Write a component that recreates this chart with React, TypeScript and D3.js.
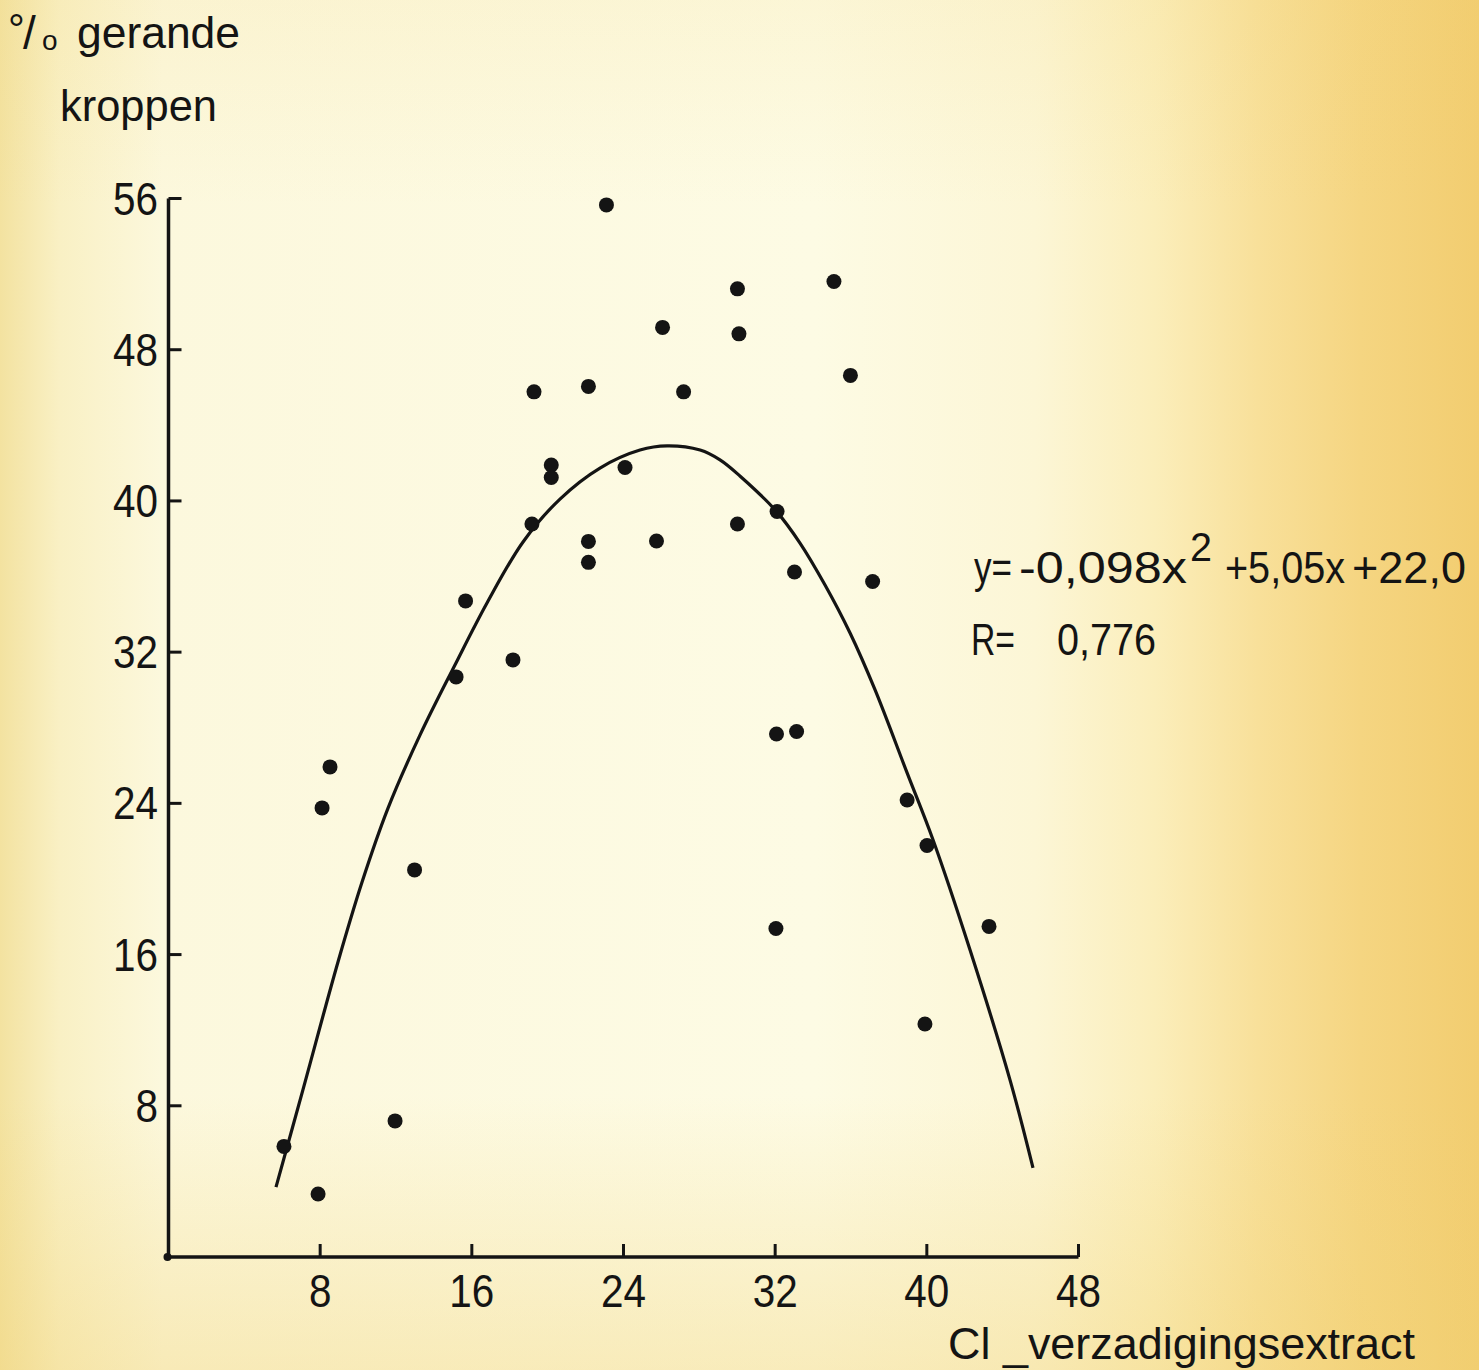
import React from "react";
import * as d3 from "d3";

// ---- data ----
const xTicks = [8, 16, 24, 32, 40, 48];
const yTicks = [8, 16, 24, 32, 40, 48, 56];

const pointX = [6.09, 7.89, 8.1, 8.52, 11.95, 12.98, 15.17, 15.67, 18.17, 19.17, 19.28, 20.19, 20.19, 22.15, 22.15, 22.15, 23.1, 24.08, 25.74, 26.06, 27.17, 30.01, 30.09, 30.01, 32.1, 33.02, 32.07, 33.13, 32.04, 35.1, 35.97, 37.14, 38.96, 40.01, 39.9, 43.28];
const pointY = [5.85, 3.33, 23.76, 25.93, 7.2, 20.48, 30.69, 34.71, 31.59, 38.78, 45.77, 41.9, 41.24, 46.06, 37.86, 36.75, 55.66, 41.77, 37.88, 49.18, 45.77, 51.22, 48.84, 38.78, 39.44, 36.24, 27.67, 27.8, 17.38, 51.61, 46.64, 35.74, 24.18, 21.77, 12.33, 17.49];

// hand-drawn fitted curve
const curveX = [5.67, 7.09, 8.94, 10.21, 11.58, 13.27, 15.11, 16.8, 18.7, 20.65, 22.76, 24.87, 26.3, 28.04, 29.09, 30.14, 32.1, 33.31, 34.63, 35.95, 37.27, 38.96, 40.33, 42.28, 44.39, 45.6];
const curveY = [3.7, 8.84, 15.61, 19.84, 23.75, 27.62, 31.32, 34.6, 37.83, 40.1, 41.74, 42.69, 42.91, 42.69, 42.17, 41.32, 39.41, 37.77, 35.55, 33.01, 30.0, 25.61, 22.06, 16.24, 9.36, 4.71];

const yTitleLines = ["gerande", "kroppen"];
const xTitle = "Cl _verzadigingsextract";
const equationParts = ["y=", "-0,098x", "2", "+5,05x", "+22,0"];
const rLabel = ["R=", "0,776"];

const W = 1479;
const H = 1370;
const INK = "#141414";
const SANS = "'Liberation Sans', Arial, sans-serif";

export default function App() {
  const x = d3.scaleLinear().domain([0, 48]).range([168.5, 1078.5]);
  const y = d3.scaleLinear().domain([0, 56]).range([1257, 198.5]);

  const curvePts: [number, number][] = curveX.map((cx, i) => [cx, curveY[i]]);
  const line = d3
    .line<[number, number]>()
    .x((d) => x(d[0]))
    .y((d) => y(d[1]))
    .curve(d3.curveCatmullRom.alpha(0.5));

  const x0 = x(0);
  const y0 = y(0);
  const digitW = 22.5;

  return (
    <svg
      width={W}
      height={H}
      viewBox={`0 0 ${W} ${H}`}
      style={{ position: "absolute", left: 0, top: 0, display: "block" }}
    >
      <defs>
        <linearGradient id="paperH" x1="0" y1="0" x2="1" y2="0">
          <stop offset="0" stopColor="#f3e2a0" />
          <stop offset="0.04" stopColor="#f9f0c4" />
          <stop offset="0.11" stopColor="#fcf8dd" />
          <stop offset="0.55" stopColor="#fdfbe4" />
          <stop offset="0.7" stopColor="#fcf6d6" />
          <stop offset="0.78" stopColor="#fbeebb" />
          <stop offset="0.85" stopColor="#f8e09a" />
          <stop offset="0.92" stopColor="#f5d581" />
          <stop offset="1" stopColor="#f2cd70" />
        </linearGradient>
        <linearGradient id="paperV" x1="0" y1="0" x2="0" y2="1">
          <stop offset="0" stopColor="#f0d070" stopOpacity="0.12" />
          <stop offset="0.15" stopColor="#f0d070" stopOpacity="0" />
          <stop offset="0.8" stopColor="#f0d070" stopOpacity="0" />
          <stop offset="1" stopColor="#f0d070" stopOpacity="0.35" />
        </linearGradient>
      </defs>
      <rect x={0} y={0} width={W} height={H} fill="url(#paperH)" />
      <rect x={0} y={0} width={W} height={H} fill="url(#paperV)" />

      {/* y-axis title */}
      <g fontFamily={SANS} fill={INK}>
        <text x={8} y={44} fontSize={42}>°</text>
        <text x={23} y={49} fontSize={46}>/</text>
        <text x={42} y={50} fontSize={28}>o</text>
        <text x={77} y={48} fontSize={45} textLength={163} lengthAdjust="spacingAndGlyphs">
          {yTitleLines[0]}
        </text>
        <text x={60} y={121} fontSize={45} textLength={157} lengthAdjust="spacingAndGlyphs">
          {yTitleLines[1]}
        </text>
      </g>

      {/* axes */}
      <line x1={x0} y1={y(56)} x2={x0} y2={y0 + 1} stroke={INK} strokeWidth={3.5} />
      <line x1={x0 - 2} y1={y0} x2={x(48)} y2={y0} stroke={INK} strokeWidth={3.5} />
      <circle cx={x0 - 1} cy={y0} r={4} fill={INK} />

      {yTicks.map((t) => (
        <g key={`yt${t}`}>
          <line x1={x0} y1={y(t)} x2={x0 + 13} y2={y(t)} stroke={INK} strokeWidth={3} />
          <text
            x={158}
            y={y(t) + 16}
            textAnchor="end"
            fontFamily={SANS}
            fontSize={47}
            fill={INK}
            textLength={String(t).length * digitW}
            lengthAdjust="spacingAndGlyphs"
          >
            {t}
          </text>
        </g>
      ))}
      {xTicks.map((t) => (
        <g key={`xt${t}`}>
          <line
            x1={x(t)}
            y1={y0}
            x2={x(t)}
            y2={y0 - 13}
            stroke={INK}
            strokeWidth={3}
          />
          <text
            x={x(t)}
            y={1307}
            textAnchor="middle"
            fontFamily={SANS}
            fontSize={47}
            fill={INK}
            textLength={String(t).length * digitW}
            lengthAdjust="spacingAndGlyphs"
          >
            {t}
          </text>
        </g>
      ))}

      {/* x-axis title */}
      <text
        x={948}
        y={1359}
        fontFamily={SANS}
        fontSize={44}
        fill={INK}
        textLength={467}
        lengthAdjust="spacingAndGlyphs"
      >
        {xTitle}
      </text>

      {/* fitted curve */}
      <path d={line(curvePts) || ""} fill="none" stroke={INK} strokeWidth={3.2} />

      {/* observations */}
      {pointX.map((px, i) => (
        <circle key={`p${i}`} cx={x(px)} cy={y(pointY[i])} r={7.5} fill={INK} />
      ))}

      {/* equation */}
      <g fontFamily={SANS} fontSize={44} fill={INK}>
        <text x={974} y={583} textLength={38} lengthAdjust="spacingAndGlyphs">
          {equationParts[0]}
        </text>
        <text x={1019} y={583} textLength={168} lengthAdjust="spacingAndGlyphs">
          {equationParts[1]}
        </text>
        <text x={1190} y={561} fontSize={40} textLength={22} lengthAdjust="spacingAndGlyphs">
          {equationParts[2]}
        </text>
        <text x={1225} y={583} textLength={120} lengthAdjust="spacingAndGlyphs">
          {equationParts[3]}
        </text>
        <text x={1352} y={583} textLength={114} lengthAdjust="spacingAndGlyphs">
          {equationParts[4]}
        </text>
        <text x={971} y={655} textLength={44} lengthAdjust="spacingAndGlyphs">
          {rLabel[0]}
        </text>
        <text x={1057} y={655} textLength={99} lengthAdjust="spacingAndGlyphs">
          {rLabel[1]}
        </text>
      </g>
    </svg>
  );
}
